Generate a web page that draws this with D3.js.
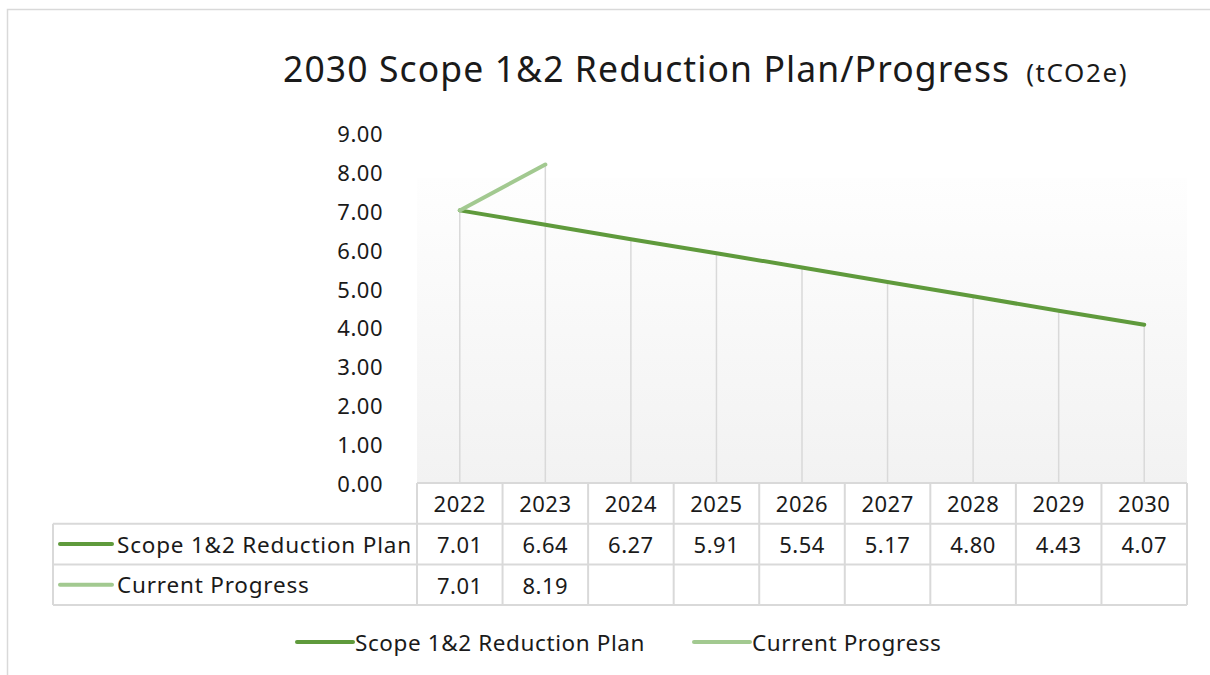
<!DOCTYPE html>
<html>
<head>
<meta charset="utf-8">
<script src="https://cdn.jsdelivr.net/npm/d3@7"></script>
<style>
  body { margin: 0; background: #fff; }
  svg text { font-family: "Noto Sans", "Open Sans", sans-serif; fill: #1a1a1a; }
</style>
</head>
<body>
<div id="chart"></div>
<script>
(function () {
  "use strict";

  const YEARS = ["2022", "2023", "2024", "2025", "2026", "2027", "2028", "2029", "2030"];
  const PLAN = [7.01, 6.64, 6.27, 5.91, 5.54, 5.17, 4.80, 4.43, 4.07];
  const PROGRESS = [7.01, 8.19];
  const Y_TICKS = [0, 1, 2, 3, 4, 5, 6, 7, 8, 9];
  const SERIES = [
    { name: "Scope 1&2 Reduction Plan", values: PLAN, color: "#5f9a3c" },
    { name: "Current Progress", values: PROGRESS, color: "#a2c990" }
  ];

  const W = 1210, H = 675;
  const plot = { left: 417, right: 1187, top: 133, bottom: 483, fillTop: 178 };
  const rowH = 40.7;
  const labelLeft = 53;

  const svg = d3.select("#chart").append("svg")
    .attr("width", W).attr("height", H);

  // chart border
  svg.append("rect")
    .attr("x", 7.5).attr("y", 9.5).attr("width", W + 10).attr("height", H + 10)
    .attr("fill", "#fff").attr("stroke", "#d9d9d9").attr("stroke-width", 1.5);

  const x = d3.scaleBand().domain(YEARS).range([plot.left, plot.right]);
  const y = d3.scaleLinear().domain([0, 9]).range([plot.bottom, plot.top]);

  // plot area gradient
  const grad = svg.append("defs").append("linearGradient")
    .attr("id", "pa").attr("x1", 0).attr("y1", 0).attr("x2", 0).attr("y2", 1);
  grad.append("stop").attr("offset", "0%").attr("stop-color", "#fefefe");
  grad.append("stop").attr("offset", "100%").attr("stop-color", "#f2f2f2");
  svg.append("rect")
    .attr("x", plot.left).attr("y", plot.fillTop)
    .attr("width", plot.right - plot.left).attr("height", plot.bottom - plot.fillTop)
    .attr("fill", "url(#pa)");

  // title
  const title = svg.append("text")
    .attr("x", 283).attr("y", 82)
    .style("font-size", "35.5px").style("letter-spacing", "1.1px");
  title.append("tspan").text("2030 Scope 1&2 Reduction Plan/Progress");
  title.append("tspan").attr("dx", 16)
    .style("font-size", "26px").style("letter-spacing", "1.6px").text("(tCO2e)");

  // y axis labels
  svg.append("g").selectAll("text").data(Y_TICKS).join("text")
    .attr("x", 383).attr("y", d => y(d))
    .attr("text-anchor", "end").attr("dominant-baseline", "central")
    .style("font-size", "22px").style("letter-spacing", "0.5px")
    .text(d => d.toFixed(2));

  // drop lines
  const cx = d => x(d) + x.bandwidth() / 2;
  svg.append("g").selectAll("line").data(YEARS).join("line")
    .attr("x1", cx).attr("x2", cx)
    .attr("y1", (d, i) => y(d3.max(SERIES, s => s.values[i] == null ? -Infinity : s.values[i])))
    .attr("y2", plot.bottom)
    .attr("stroke", "#d9d9d9").attr("stroke-width", 1.5);

  // lines
  const line = d3.line().x((d, i) => cx(YEARS[i])).y(d => y(d));
  svg.append("g").selectAll("path").data(SERIES).join("path")
    .attr("d", s => line(s.values))
    .attr("fill", "none").attr("stroke", s => s.color)
    .attr("stroke-width", 4).attr("stroke-linecap", "round").attr("stroke-linejoin", "round");

  // data table
  const table = svg.append("g").attr("class", "data-table");
  const gridColor = "#d9d9d9";
  const rowsY = [plot.bottom, plot.bottom + rowH, plot.bottom + 2 * rowH, plot.bottom + 3 * rowH];

  table.append("line")
    .attr("x1", plot.left).attr("x2", plot.right).attr("y1", rowsY[0]).attr("y2", rowsY[0]);
  rowsY.slice(1).forEach(ry => {
    table.append("line")
      .attr("x1", labelLeft).attr("x2", plot.right).attr("y1", ry).attr("y2", ry);
  });
  table.append("line")
    .attr("x1", labelLeft).attr("x2", labelLeft).attr("y1", rowsY[1]).attr("y2", rowsY[3]);
  YEARS.forEach(yr => {
    table.append("line")
      .attr("x1", x(yr)).attr("x2", x(yr)).attr("y1", rowsY[0]).attr("y2", rowsY[3]);
  });
  table.append("line")
    .attr("x1", plot.right).attr("x2", plot.right).attr("y1", rowsY[0]).attr("y2", rowsY[3]);
  table.selectAll("line").attr("stroke", gridColor).attr("stroke-width", 2);

  // header years
  table.selectAll("text.yr").data(YEARS).join("text").attr("class", "yr")
    .attr("x", cx).attr("y", rowsY[0] + rowH / 2)
    .attr("text-anchor", "middle").attr("dominant-baseline", "central")
    .style("font-size", "22px").style("letter-spacing", "0.5px")
    .text(d => d);

  SERIES.forEach((s, si) => {
    const rowMid = rowsY[si + 1] + rowH / 2;
    table.append("line")
      .attr("x1", 60).attr("x2", 112).attr("y1", rowMid).attr("y2", rowMid)
      .attr("stroke", s.color).attr("stroke-width", 4).attr("stroke-linecap", "round");
    table.append("text")
      .attr("x", 117).attr("y", rowMid)
      .attr("dominant-baseline", "central")
      .style("font-size", "22.5px").style("letter-spacing", "0.8px")
      .text(s.name);
    table.selectAll("text.v" + si).data(s.values).join("text").attr("class", "v" + si)
      .attr("x", (d, i) => cx(YEARS[i])).attr("y", rowMid)
      .attr("text-anchor", "middle").attr("dominant-baseline", "central")
      .style("font-size", "22px").style("letter-spacing", "0.5px")
      .text(d => d.toFixed(2));
  });

  // legend
  const legendX = [297, 694];
  const legend = svg.append("g").selectAll("g").data(SERIES).join("g")
    .attr("transform", (d, i) => `translate(${legendX[i]},642)`);
  legend.append("line")
    .attr("x1", 0).attr("x2", 56).attr("y1", 0).attr("y2", 0)
    .attr("stroke", d => d.color).attr("stroke-width", 4).attr("stroke-linecap", "round");
  legend.append("text")
    .attr("x", 58).attr("y", 0).attr("dominant-baseline", "central")
    .style("font-size", "22.5px").style("letter-spacing", "0.6px")
    .text(d => d.name);
})();
</script>
</body>
</html>
